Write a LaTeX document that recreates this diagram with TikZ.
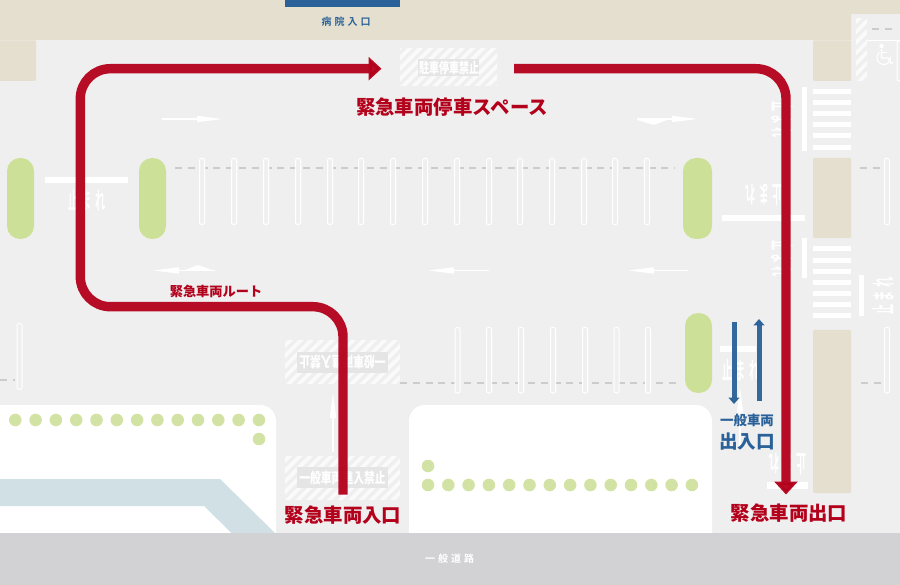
\documentclass[tikz,border=0pt]{standalone}
\usepackage{fontspec}
\newfontfamily\jpfont{Noto Sans CJK JP}[BoldFont={Noto Sans CJK JP Black}]
\newfontfamily\jpwide{Noto Sans CJK JP Bold}[LetterSpace=30]
\usetikzlibrary{arrows.meta}
\definecolor{groundgrey}{HTML}{EFEFEF}
\definecolor{buildbeige}{HTML}{E4DFCF}
\definecolor{plantgreen}{HTML}{CDE097}
\definecolor{bushgreen}{HTML}{D3E3A6}
\definecolor{roadgrey}{HTML}{D2D2D4}
\definecolor{routeblue}{HTML}{2A6198}
\definecolor{routered}{HTML}{B3001B}
\definecolor{bandteal}{HTML}{D1E0E4}
\definecolor{dashgrey}{HTML}{CCCCCC}
\definecolor{platebox}{HTML}{E5E5E5}
\tikzset{
	building/.style={fill=buildbeige,rounded corners=1pt},
	pill/.style={fill=plantgreen,rounded corners=13pt},
	slot/.style={draw=white,fill=groundgrey,line width=1pt,rounded corners=2pt},
	dashline/.style={draw=dashgrey,line width=2pt,dash pattern=on 7pt off 5.8pt},
	whitebar/.style={fill=white},
	lanearrow/.style={draw=white,line width=1.5pt,-{Triangle[length=26pt,width=6pt]}},
	redroute/.style={draw=routered,line width=9.4pt,opacity=.95,-{Triangle[length=13pt,width=23pt]}},
	blueroute/.style={draw=routeblue,line width=5pt,opacity=.95,-{Triangle[length=6.5pt,width=11pt]}},
	redlabel/.style={text=routered,font=\jpfont\bfseries\fontsize{19.4}{21}\selectfont,inner sep=0pt},
	bluelabel/.style={text=routeblue,font=\jpfont\bfseries,inner sep=0pt},
	marktext/.style={text=white,font=\jpfont\fontsize{12}{14}\selectfont,inner sep=0pt,transform shape},
	stopmark/.style={text=white,font=\jpwide\fontsize{24}{26}\selectfont,inner sep=0pt,transform shape,rotate=#1,xscale=.42},
	stopmark/.default=0,
}
\newcommand{\hatchbox}[4]{
	\begin{scope}
		\clip (#1,#2) rectangle (#3,#4);
		\foreach \hx in {-70,-59.5,...,125}
			\draw[white,opacity=.7,line width=3.6pt] (#1+\hx-100,#4+100) -- (#1+\hx+100,#4-100);
	\end{scope}
}
\newcommand{\bushdot}[2]{
	\fill[bushgreen] (#1,#2) circle (6.3pt);
	\draw[plantgreen,line width=.8pt,dotted] (#1,#2) circle (3.4pt);
}
\begin{document}
\begin{tikzpicture}[x=1pt,y=-1pt]
	\clip (0,0) rectangle (900,585);
	\fill[groundgrey] (0,0) rectangle (900,585);

	\fill[buildbeige] (0,0) rectangle (900,14) (0,0) rectangle (851,40);
	\fill[routeblue] (285,0) rectangle (400,7);
	\draw[white,line width=.4pt] (867,40) -- (900,40);
	\fill[building] (-5,40.5) rectangle (36,81);
	\fill[building] (813,40.5) rectangle (851,81);
	\fill[building] (813,158) rectangle (851,238);
	\fill[building] (813,330) rectangle (851,493);

	\foreach \py in {89,100,111,122,133.5,145,246,258,269,280,291,302,313}
		\fill[whitebar] (813,\py) rectangle (851,\py+5);
	\fill[whitebar] (802,87) rectangle (807,151);
	\fill[whitebar] (802,238) rectangle (807,278);
	\fill[whitebar] (859,275) rectangle (864,316);
	\fill[whitebar] (45,177) rectangle (128,183);
	\fill[whitebar] (722,215) rectangle (805,221);
	\fill[whitebar] (720,346) rectangle (756,352);
	\fill[whitebar] (767,482) rectangle (808,489);

	\draw[dashline] (175,168.5) -- (675,168.5);
	\draw[dashline] (400,383) -- (680,383);
	\draw[dashline] (0,380) -- (15,380);
	\draw[dashline] (860,168.5) -- (882,168.5);
	\draw[dashline] (861,383) -- (885,383);
	\draw[dashline] (872,29) -- (894,29);

	\foreach \sx in {202,234,266,298,330,361,393,425,457,489,520,552,584,615,647,887}
		\draw[slot] (\sx-2.5,158.5) rectangle (\sx+2.5,224.5);
	\foreach \sx in {457.5,489,521,553,585,616.5,648,887}
		\draw[slot] (\sx-2.5,327.5) rectangle (\sx+2.5,393);
	\draw[slot] (17,323.5) rectangle (22,389.5);
	\draw[slot] (897,41) rectangle (905,81);

	\fill[pill] (7,158) rectangle (34,239);
	\fill[pill] (139,158) rectangle (166,239);
	\fill[pill] (683,158) rectangle (712,239);
	\fill[pill] (685,313) rectangle (712,393);

	\draw[lanearrow] (162,119) -- (223,119);
	\draw[lanearrow] (637,119) -- (698,119);
	\fill[white] (637,120) -- (667,120) -- (654,125) -- cycle;
	\draw[lanearrow] (215,270.5) -- (153,270.5);
	\fill[white] (185,270) -- (212,270) -- (198,265) -- cycle;
	\draw[lanearrow] (489,270.5) -- (428,270.5);
	\draw[lanearrow] (688,270.5) -- (628,270.5);
	\draw[lanearrow] (333,452) -- (333,392);
	\draw[lanearrow] (740,450) -- (740,387);

	\fill[white,rounded corners=16pt] (-30,560) -- (-30,405) -- (276,405) -- (276,560) -- cycle;
	\fill[white,rounded corners=16pt] (409,560) -- (409,405) -- (712,405) -- (712,560) -- cycle;
	\fill[bandteal] (0,479) -- (220,479) -- (275,533) -- (231.5,533) -- (204,506) -- (0,506) -- cycle;
	\fill[roadgrey] (0,533) rectangle (900,585);

	\foreach \dx in {15.3,35.6,...,260} {
		\bushdot{\dx}{420}
	}
	\bushdot{259}{439}
	\bushdot{428}{466}
	\foreach \dx in {428,448.3,...,693} {
		\bushdot{\dx}{485}
	}

	\hatchbox{400}{49}{497}{86}
	\hatchbox{285}{341}{400}{384}
	\hatchbox{285}{456}{400}{499}
	\hatchbox{856}{19}{867}{81}
	\fill[platebox] (418,59) rectangle (479,76);
	\fill[platebox] (297,352) rectangle (388,373);
	\fill[platebox] (297,467) rectangle (388,488);
	\node[marktext,yscale=1.45,font=\jpfont\bfseries\fontsize{10}{12}\selectfont] (noparking) at (449,67.5) {駐車停車禁止};
	\node[marktext,rotate=180,yscale=1.35,font=\jpfont\bfseries\fontsize{10.8}{12}\selectfont] (noentryback) at (342.5,362.5) {一般車両進入禁止};
	\node[marktext,yscale=1.35,font=\jpfont\bfseries\fontsize{10.8}{12}\selectfont] (noentry) at (342.5,477.5) {一般車両進入禁止};

	\node[stopmark] (stopa) at (87,200.5) {止まれ};
	\node[stopmark=180] (stopb) at (764,195) {止まれ};
	\node[stopmark] (stopc) at (741,370.5) {止まれ};
	\node[stopmark=180] (stopd) at (788,463.5) {止まれ};
	\node[stopmark=-90] (stope) at (782,119.5) {止まれ};
	\node[stopmark=-90] (stopf) at (782,258.5) {止まれ};
	\node[stopmark=90] (stopg) at (883,296) {止まれ};

	\fill[white] (881.5,46) circle (2.2pt);
	\draw[white,line width=1.3pt] (881.5,49) -- (881.5,58) -- (888,58) -- (891,63.5) -- (893,62.5);
	\draw[white,line width=1.3pt] (881.5,52.5) -- (887,52.5);
	\draw[white,line width=1.1pt] (879.5,52.5) arc[start angle=130,end angle=370,radius=6.8pt];

	\coordinate (redin) at (343,494.7);
	\coordinate (redturna) at (343,306.7);
	\coordinate (redturnb) at (80.3,306.7);
	\coordinate (redturnc) at (80.3,68.7);
	\coordinate (parkleft) at (381.5,68.7);
	\coordinate (parkright) at (514,68.7);
	\coordinate (redturnd) at (786,68.7);
	\coordinate (redout) at (786,494.5);
	\draw[redroute,rounded corners=30pt] (redin) -- (redturna) -- (redturnb) -- (redturnc) -- (parkleft);
	\draw[redroute,rounded corners=30pt] (parkright) -- (redturnd) -- (redout);

	\coordinate (bluedowna) at (734,322);
	\coordinate (bluedownb) at (734,404);
	\coordinate (blueupa) at (759,401);
	\coordinate (blueupb) at (759,319);
	\draw[blueroute] (bluedowna) -- (bluedownb);
	\draw[blueroute] (blueupa) -- (blueupb);

	\node[bluelabel,font=\jpwide\fontsize{10}{12}\selectfont,text=routeblue] (hospital) at (346,22) {病院入口};
	\node[redlabel] (stopspace) at (452,107) {緊急車両停車スペース};
	\node[redlabel,font=\jpfont\bfseries\fontsize{13.2}{15}\selectfont] (routename) at (216,291) {緊急車両ルート};
	\node[redlabel] (redentry) at (343,515) {緊急車両入口};
	\node[redlabel] (redexit) at (789,513.5) {緊急車両出口};
	\node[bluelabel,font=\jpfont\bfseries\fontsize{13.4}{15}\selectfont] (general) at (747,420.5) {一般車両};
	\node[bluelabel,font=\jpfont\bfseries\fontsize{18.6}{20}\selectfont] (gate) at (747,442) {出入口};
	\node[text=white,font=\jpwide\fontsize{10}{12}\selectfont,inner sep=0pt] (publicroad) at (449.5,558.5) {一般道路};
\end{tikzpicture}
\end{document}
